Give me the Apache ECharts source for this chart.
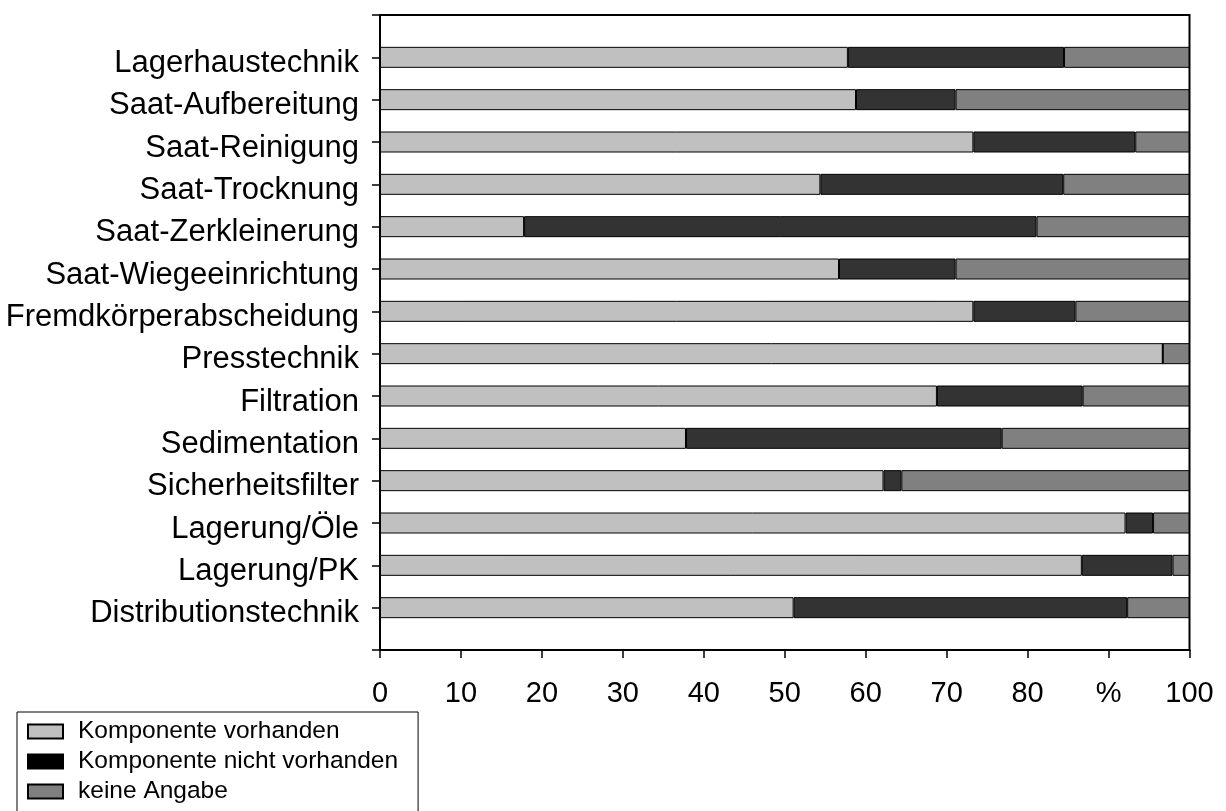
<!DOCTYPE html>
<html>
<head>
<meta charset="utf-8">
<script src="https://cdn.jsdelivr.net/npm/echarts@6/dist/echarts.min.js"></script>
<style>
  html, body { margin: 0; padding: 0; background: #fff; }
  #chart { width: 1226px; height: 811px; }
</style>
</head>
<body>
<div id="chart"></div>
<script>
// Kategorien von oben nach unten
const categories = [
  "Lagerhaustechnik",
  "Saat-Aufbereitung",
  "Saat-Reinigung",
  "Saat-Trocknung",
  "Saat-Zerkleinerung",
  "Saat-Wiegeeinrichtung",
  "Fremdkörperabscheidung",
  "Presstechnik",
  "Filtration",
  "Sedimentation",
  "Sicherheitsfilter",
  "Lagerung/Öle",
  "Lagerung/PK",
  "Distributionstechnik",
];

// Anteile in %
const vorhanden = [57.8, 58.8, 73.3, 54.4, 17.8, 56.7, 73.3, 96.7, 68.8, 37.8, 62.2, 92.1, 86.7, 51.1];
const nichtVorhanden = [26.7, 12.3, 20.0, 30.0, 63.3, 14.4, 12.6, 0, 18.0, 39.0, 2.2, 3.4, 11.2, 41.2];
const keineAngabe = [15.5, 28.9, 6.7, 15.6, 18.9, 28.9, 14.1, 3.3, 13.2, 23.2, 35.6, 4.5, 2.1, 7.7];

const xTicks = [0, 10, 20, 30, 40, 50, 60, 70, 80, 90, 100];

// leere Plaetze oben und unten (Balken sitzen auf den Teilstrichen)
const pad = (arr) => ["-"].concat(arr, ["-"]);
const font = "Liberation Sans, Arial, sans-serif";

const chart = echarts.init(document.getElementById("chart"));

function barSeries(name, data, color) {
  return {
    name: name,
    type: "bar",
    stack: "total",
    barWidth: 21,
    data: pad(data),
    itemStyle: {
      color: color,
      borderColor: "#000",
      borderWidth: 1,
    },
    emphasis: { disabled: true },
  };
}

chart.setOption({
  animation: false,
  textStyle: { fontFamily: font },
  grid: {
    left: 380,
    right: 36.5,
    top: 15,
    bottom: 161,
    show: true,
    borderColor: "#000",
    borderWidth: 2,
  },
  legend: {
    orient: "vertical",
    left: 17,
    top: 712,
    height: 200,
    padding: [7, 20, 30, 10],
    borderColor: "#000",
    borderWidth: 1,
    itemWidth: 35,
    itemHeight: 14,
    itemGap: 5,
    selectedMode: false,
    icon: "rect",
    textStyle: {
      fontSize: 24.5,
      color: "#000",
      fontFamily: font,
      padding: [0, 0, 0, 10],
    },
    data: [
      { name: "Komponente vorhanden" },
      { name: "Komponente nicht vorhanden", itemStyle: { color: "#000" } },
      { name: "keine Angabe" },
    ],
  },
  xAxis: {
    type: "value",
    min: 0,
    max: 100,
    interval: 10,
    axisLine: { show: true, lineStyle: { color: "#000", width: 2 } },
    axisTick: { show: true, length: 8, lineStyle: { color: "#000", width: 1.5 } },
    splitLine: { show: false },
    axisLabel: {
      fontSize: 29,
      color: "#000",
      margin: 29,
      fontFamily: font,
      formatter: (v) => (v === 90 ? "%" : xTicks.indexOf(v) >= 0 ? String(v) : ""),
    },
  },
  yAxis: {
    type: "category",
    inverse: true,
    boundaryGap: false,
    data: pad(categories).map((c) => (c === "-" ? "" : c)),
    axisLine: { show: true, lineStyle: { color: "#000", width: 2 } },
    axisTick: { show: true, length: 8, interval: 0, lineStyle: { color: "#000", width: 1.5 } },
    splitLine: { show: false },
    axisLabel: {
      interval: 0,
      fontSize: 31,
      color: "#000",
      margin: 21,
      fontFamily: font,
      // Beschriftung sitzt etwas unter dem Teilstrich
      verticalAlign: "top",
      lineHeight: 12,
    },
  },
  series: [
    barSeries("Komponente vorhanden", vorhanden, "#c0c0c0"),
    barSeries("Komponente nicht vorhanden", nichtVorhanden, "#333333"),
    barSeries("keine Angabe", keineAngabe, "#808080"),
  ],
});
</script>
</body>
</html>
